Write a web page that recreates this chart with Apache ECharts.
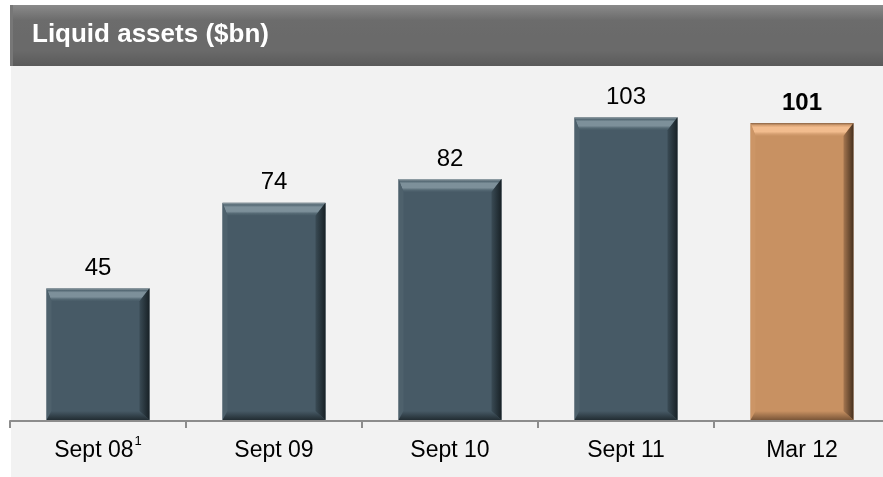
<!DOCTYPE html>
<html><head><meta charset="utf-8">
<script src="https://cdn.jsdelivr.net/npm/echarts@6/dist/echarts.min.js"></script>
<style>html,body{margin:0;padding:0;background:#fff;overflow:hidden}#c{width:900px;height:477px}</style>
</head><body><div id="c"></div>
<script>
const categories = ['Sept 08', 'Sept 09', 'Sept 10', 'Sept 11', 'Mar 12'];
const values = [45, 74, 82, 103, 101];
const highlight = [false, false, false, false, true];
const title = 'Liquid assets ($bn)';

const FONT = '"Liberation Sans", Arial, sans-serif';
const blue = {body:'#475a66', topHi:'#7d909a', topLo:'#556974', right:'#182126', rightIn:'#3a4b55', bottom:'#222d33', left:'#4e616c', edge:'#9aa6ac'};
const orange = {body:'#c89162', topHi:'#f2bc8e', topLo:'#d6a072', right:'#46301e', rightIn:'#a57650', bottom:'#7a5638', left:'#cc9566', edge:'#8a6446'};

const chart = echarts.init(document.getElementById('c'));
const lin = (x0,y0,x1,y1,stops)=>new echarts.graphic.LinearGradient(x0,y0,x1,y1,stops.map((c,i)=>({offset:i/(stops.length-1),color:c})));

chart.setOption({
  backgroundColor: '#ffffff',
  animation: false,
  graphic: [
    {type:'rect', shape:{x:11,y:66,width:889,height:411}, style:{fill:'#f2f2f2'}, z:-10},
    {type:'rect', shape:{x:10,y:5,width:890,height:61}, style:{fill:lin(0,0,0,1,['#8a8a8a','#6c6c6c','#6a6a6a','#6a6a6a','#5a5a5a'])}, z:-5},
    {type:'rect', shape:{x:10,y:5,width:3,height:61}, style:{fill:'#777'}, z:-4},
    {type:'text', left:32, top:22, style:{text:title, fill:'#ffffff', font:'bold 26px '+FONT}, z:5}
  ],
  grid: {left:10, top:96.5, width:880, height:324.5, containLabel:false},
  xAxis: {
    type:'category', data:categories,
    axisLine:{lineStyle:{color:'#8c8c8c', width:2}},
    axisTick:{show:true, interval:0, length:7, lineStyle:{color:'#8c8c8c', width:2}},
    axisLabel:{
      interval:0, margin:13, color:'#000', fontFamily:FONT, fontSize:23,
      formatter:(v,i)=> i===0 ? '{a|'+v+'}{s|1}' : '{a|'+v+'}',
      rich:{a:{fontSize:23, lineHeight:34, fontFamily:FONT, color:'#000'},
            s:{fontSize:13, lineHeight:14, fontFamily:FONT, color:'#000', padding:[0,0,20,1]}}
    }
  },
  yAxis: {type:'value', min:0, max:110, show:false, splitLine:{show:false}},
  series: [{
    type:'custom',
    data: values.map((v,i)=>[i,v]),
    renderItem: (params, api) => {
      const idx = api.value(0), v = api.value(1);
      const top = api.coord([idx, v]);
      const base = api.coord([idx, 0]);
      const w = api.size([1, 0])[0] * 0.585;
      const x0 = top[0]-w/2, x1 = top[0]+w/2, y0 = top[1], y1 = base[1]-1;
      const p = highlight[idx] ? orange : blue;
      const bt = 13, br = 10, bb = 9, bl = 5;
      return {type:'group', children:[
        {type:'rect', shape:{x:x0,y:y0,width:w,height:y1-y0}, style:{fill:p.body}},
        {type:'polygon', shape:{points:[[x0,y0],[x1,y0],[x1-br,y0+bt],[x0+bl,y0+bt]]},
          style:{fill:lin(0,0,0,1,[p.edge,p.topLo,p.topHi,p.topHi,p.topHi,p.topLo,p.body])}},
        {type:'polygon', shape:{points:[[x0,y0],[x0+bl,y0+bt],[x0+bl,y1-bb],[x0,y1]]},
          style:{fill:p.left}},
        {type:'polygon', shape:{points:[[x0,y1],[x1,y1],[x1-br,y1-bb],[x0+bl,y1-bb]]},
          style:{fill:lin(0,0,0,1,[p.body,p.bottom])}},
        {type:'polygon', shape:{points:[[x1,y0],[x1,y1],[x1-br,y1-bb],[x1-br,y0+bt]]},
          style:{fill:lin(0,0,1,0,[p.rightIn,p.right])}},
        {type:'text', style:{text:String(values[idx]), x:top[0], y:y0-8, textAlign:'center', textVerticalAlign:'bottom',
          fill:'#000', font:(highlight[idx]?'bold ':'')+'24px '+FONT}}
      ]};
    }
  }]
});
</script></body></html>
